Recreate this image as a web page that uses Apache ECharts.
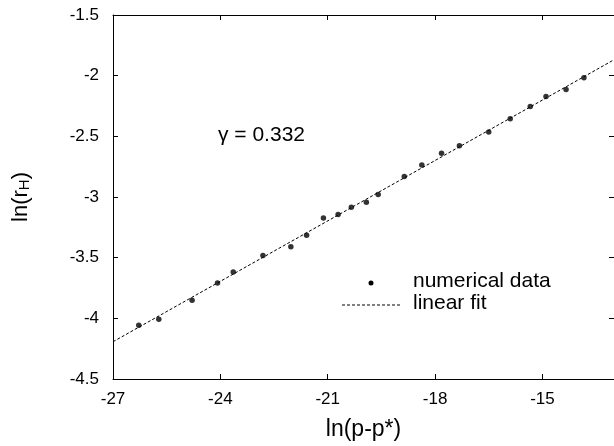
<!DOCTYPE html>
<html><head><meta charset="utf-8">
<script src="https://cdn.jsdelivr.net/npm/echarts@6/dist/echarts.min.js"></script>
<style>html,body{margin:0;padding:0;background:#fff}#c{width:614px;height:446px}</style>
</head><body><div id="c"></div>
<script>
// numerical data: ln(p-p*) vs ln(r_H)
const lnP = [-26.28,-25.72,-24.79,-24.08,-23.64,-22.81,-22.03,-21.59,-21.12,-20.71,-20.34,-19.92,-19.59,-18.86,-18.37,-17.82,-17.32,-16.50,-15.90,-15.34,-14.90,-14.34,-13.84];
const lnR = [-4.056,-4.007,-3.850,-3.708,-3.618,-3.483,-3.410,-3.316,-3.174,-3.144,-3.084,-3.043,-2.979,-2.832,-2.736,-2.640,-2.577,-2.464,-2.355,-2.254,-2.171,-2.114,-2.018];
// linear fit endpoints
const fitX = [-27, -13];
const fitY = [-4.193, -1.869];
const xTicks = [-27, -24, -21, -18, -15];
const yTicks = [-4.5, -4, -3.5, -3, -2.5, -2, -1.5];
const gammaText = 'γ = 0.332';
const legendLabels = ['numerical data', 'linear fit'];

const FONT = 'Liberation Sans, Arial, sans-serif';
const chart = echarts.init(document.getElementById('c'));
const axisCommon = {
  axisLine: {show: true, lineStyle: {color: '#000', width: 1}},
  axisTick: {show: true, inside: true, length: 5, lineStyle: {color: '#000'}},
  splitLine: {show: false}
};
chart.setOption({
  animation: false,
  backgroundColor: '#fff',
  grid: {left: 113, top: 15, right: -1, bottom: 66},
  xAxis: [
    Object.assign({type: 'value', min: -27, max: -13, interval: 3, position: 'bottom',
      axisLabel: {color: '#000', fontSize: 17, fontFamily: FONT, margin: 12,
        showMaxLabel: false, formatter: v => xTicks.includes(v) ? String(v) : ''},
      name: 'ln(p-p*)', nameLocation: 'middle', nameGap: 39,
      nameTextStyle: {color: '#000', fontSize: 23, fontFamily: FONT}}, axisCommon),
    Object.assign({type: 'value', min: -27, max: -13, interval: 3, position: 'top',
      axisLabel: {show: false}}, axisCommon)
  ],
  yAxis: [
    Object.assign({type: 'value', min: -4.5, max: -1.5, interval: 0.5, position: 'left',
      axisLabel: {color: '#000', fontSize: 17, fontFamily: FONT, margin: 14,
        formatter: v => yTicks.includes(v) ? String(v) : ''},
      name: 'ln(r{sub|H})', nameLocation: 'middle', nameGap: 81, nameRotate: 90,
      nameTextStyle: {color: '#000', fontSize: 22, fontFamily: FONT,
        rich: {sub: {fontSize: 15, fontFamily: FONT, color: '#000', verticalAlign: 'bottom', padding: [8, 0, 0, 0]}}}}, axisCommon),
    Object.assign({type: 'value', min: -4.5, max: -1.5, interval: 0.5, position: 'right',
      axisLabel: {show: false}}, axisCommon)
  ],
  series: [
    {type: 'line', name: legendLabels[1], data: fitX.map((x, i) => [x, fitY[i]]),
      symbol: 'none', lineStyle: {color: '#000', width: 1, type: [3, 2]}, silent: true, z: 1},
    {type: 'scatter', name: legendLabels[0], data: lnP.map((x, i) => [x, lnR[i]]),
      symbol: 'circle', symbolSize: 5.5, itemStyle: {color: '#000'}, z: 2}
  ],
  graphic: [
    {type: 'text', left: 218, top: 125, style: {text: gammaText, fill: '#000', font: '21px ' + FONT}},
    {type: 'circle', shape: {cx: 371, cy: 283, r: 2.5}, style: {fill: '#000'}},
    {type: 'text', left: 413, top: 271, style: {text: legendLabels[0], fill: '#000', font: '21px ' + FONT}},
    {type: 'line', shape: {x1: 342, y1: 305, x2: 400, y2: 305}, style: {stroke: '#000', lineWidth: 1, lineDash: [3, 2]}},
    {type: 'text', left: 413, top: 293, style: {text: legendLabels[1], fill: '#000', font: '21px ' + FONT}}
  ]
});
</script>
</body></html>
